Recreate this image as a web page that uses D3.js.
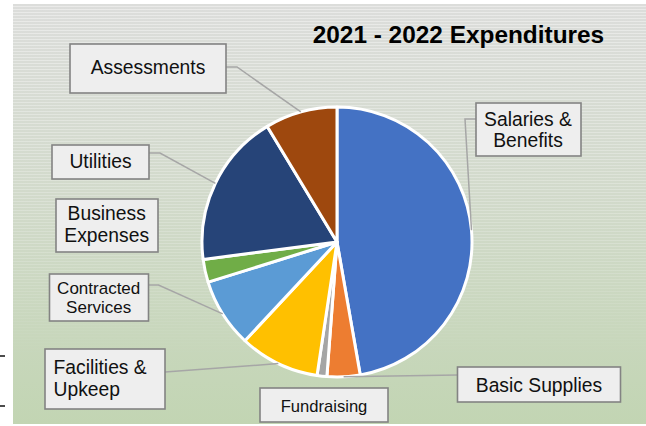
<!DOCTYPE html>
<html>
<head>
<meta charset="utf-8">
<script src="https://cdn.jsdelivr.net/npm/d3@7"></script>
<style>
  html, body { margin: 0; padding: 0; background: #ffffff; }
  svg { display: block; font-family: "Liberation Sans", Arial, sans-serif; }
</style>
</head>
<body>
<svg id="chart" width="646" height="426"></svg>
<script>
// ---- data ----
const title = "2021 - 2022 Expenditures";
const categories = ["Salaries & Benefits", "Basic Supplies", "Fundraising", "Facilities & Upkeep",
                    "Contracted Services", "Business Expenses", "Utilities", "Assessments"];
const values = [47.25, 3.95, 1.17, 9.58, 8.25, 2.75, 18.42, 8.64];
const colors = ["#4472C4", "#ED7D31", "#A5A5A5", "#FFC000", "#5B9BD5", "#70AD47", "#264478", "#9E480E"];

// ---- layout (label boxes) ----
const layout = {
  "Salaries & Benefits": {box:[476,103,105,53], lines:["Salaries &","Benefits"], x:528, y:[125.7,147.3], anchor:"middle", size:19.3, leader:{from:[476,119], elbow:[465,119]}},
  "Basic Supplies":      {box:[457.5,367,163,35], lines:["Basic Supplies"], x:539, y:[391.7], anchor:"middle", size:19.3, leader:{from:[457.5,375]}},
  "Fundraising":         {box:[260,388,128,34], lines:["Fundraising"], x:324, y:[411.7], anchor:"middle", size:16.6, leader:null},
  "Facilities & Upkeep": {box:[45,349,120,60], lines:["Facilities &","Upkeep"], x:53.5, y:[374.3,396], anchor:"start", size:19.3, leader:{from:[165,372]}},
  "Contracted Services": {box:[49.5,274,99,47], lines:["Contracted","Services"], x:98.7, y:[294,312.7], anchor:"middle", size:17, leader:{from:[148.5,285], elbow:[158.5,285]}},
  "Business Expenses":   {box:[56,199,102,53], lines:["Business","Expenses"], x:106.7, y:[220,241.7], anchor:"middle", size:19.3, leader:null},
  "Utilities":           {box:[52,145,97,34], lines:["Utilities"], x:100.5, y:[168.3], anchor:"middle", size:19.3, leader:{from:[149,153], elbow:[160,153]}},
  "Assessments":         {box:[70,44,156,49], lines:["Assessments"], x:148, y:[74.3], anchor:"middle", size:19.3, leader:{from:[226,67], elbow:[237,67]}}
};

const svg = d3.select("#chart");
const defs = svg.append("defs");

// background gradient
const grad = defs.append("linearGradient").attr("id","bg").attr("x1",0).attr("y1",0).attr("x2",0).attr("y2",1);
grad.append("stop").attr("offset","0%").attr("stop-color","#dcdddb");
grad.append("stop").attr("offset","45%").attr("stop-color","#d2dacb");
grad.append("stop").attr("offset","100%").attr("stop-color","#c2d5b3");

// stripe pattern
const pat = defs.append("pattern").attr("id","stripes").attr("patternUnits","userSpaceOnUse")
  .attr("width",8).attr("height",3);
pat.append("rect").attr("x",0).attr("y",0).attr("width",8).attr("height",1).attr("fill","#ffffff");
const mg = defs.append("linearGradient").attr("id","mfade").attr("x1",0).attr("y1",0).attr("x2",0).attr("y2",1);
mg.append("stop").attr("offset","0%").attr("stop-color","#fff").attr("stop-opacity",0.4);
mg.append("stop").attr("offset","60%").attr("stop-color","#fff").attr("stop-opacity",0.18);
mg.append("stop").attr("offset","85%").attr("stop-color","#fff").attr("stop-opacity",0);
const mask = defs.append("mask").attr("id","fade");
mask.append("rect").attr("x",13).attr("y",4).attr("width",633).attr("height",420).attr("fill","url(#mfade)");

svg.append("rect").attr("x",13).attr("y",4).attr("width",633).attr("height",420).attr("fill","url(#bg)");
svg.append("rect").attr("x",13).attr("y",4).attr("width",633).attr("height",420)
  .attr("fill","url(#stripes)").attr("mask","url(#fade)");

// little dashes at the left edge
svg.append("g").selectAll("line").data([356, 406]).join("line")
  .attr("x1",0).attr("x2",5).attr("y1",d=>d).attr("y2",d=>d)
  .attr("stroke","#111").attr("stroke-width",1.5);

// title
svg.append("text").attr("x",312.7).attr("y",43.3)
  .attr("font-size",24.4).attr("font-weight","bold").attr("fill","#000")
  .text(title);

// pie
const cx = 337, cy = 242, r = 135;
const pie = d3.pie().sort(null).value(d => d.value);
const data = categories.map((c,i) => ({name:c, value:values[i], color:colors[i]}));
const arcs = pie(data);
const arc = d3.arc().innerRadius(0).outerRadius(r);
const edgeArc = d3.arc().innerRadius(r).outerRadius(r);

const g = svg.append("g").attr("transform",`translate(${cx},${cy})`);
g.selectAll("path").data(arcs).join("path")
  .attr("d", arc)
  .attr("fill", d => d.data.color)
  .attr("stroke","#ffffff").attr("stroke-width",3).attr("stroke-linejoin","round");

// leader lines
const leaders = svg.append("g");
arcs.forEach(a => {
  const L = layout[a.data.name];
  if (!L || !L.leader) return;
  const [ex, ey] = edgeArc.centroid(a);
  const pts = [L.leader.from];
  if (L.leader.elbow) pts.push(L.leader.elbow);
  pts.push([cx + ex, cy + ey]);
  leaders.append("path").attr("d", d3.line()(pts))
    .attr("fill","none").attr("stroke","#a6a6a6").attr("stroke-width",1.5);
});

// label boxes
const lg = svg.append("g");
categories.forEach(c => {
  const L = layout[c];
  lg.append("rect").attr("x",L.box[0]).attr("y",L.box[1]).attr("width",L.box[2]).attr("height",L.box[3])
    .attr("fill","#eeeeee").attr("stroke","#838383").attr("stroke-width",1.6);
  L.lines.forEach((t,i) => {
    lg.append("text").attr("x",L.x).attr("y",L.y[i]).attr("text-anchor",L.anchor)
      .attr("font-size",L.size).attr("fill","#111").text(t);
  });
});
</script>
</body>
</html>
